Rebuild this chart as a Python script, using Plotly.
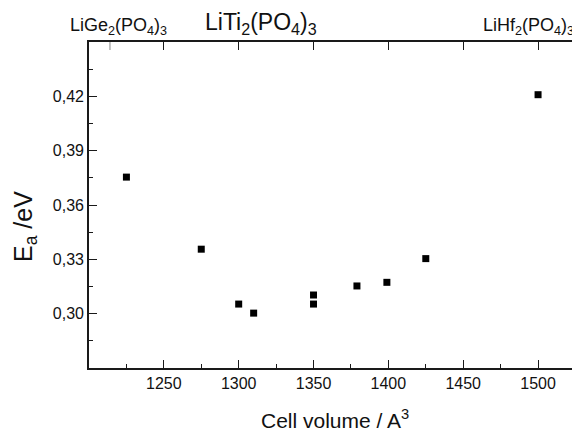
import plotly.graph_objects as go

# Data
cell_volume = [1225, 1275, 1300, 1310, 1350, 1350, 1379, 1399, 1425, 1500]
ea_ev = [0.3754, 0.3356, 0.3053, 0.3003, 0.3103, 0.3053, 0.3153, 0.3173, 0.3304, 0.4209]
x_ticks = [1250, 1300, 1350, 1400, 1450, 1500]
x_minor = [1225, 1275, 1325, 1375, 1425, 1475]
y_ticks = [0.30, 0.33, 0.36, 0.39, 0.42]
y_minor = [0.285, 0.315, 0.345, 0.375, 0.405, 0.435]
y_tick_labels = ["0,30", "0,33", "0,36", "0,39", "0,42"]
top_labels = ["LiGe<sub>2</sub>(PO<sub>4</sub>)<sub>3</sub>",
              "LiTi<sub>2</sub>(PO<sub>4</sub>)<sub>3</sub>",
              "LiHf<sub>2</sub>(PO<sub>4</sub>)<sub>3</sub>"]
top_label_x = [1220, 1315, 1462]
top_label_sizes = [18, 23, 18]
x_range = [1200, 1534.7]
y_range = [0.27, 0.45]

FONT = "Liberation Sans, Arial, sans-serif"
AX = "#1a1a1a"
FIG_W = 590
L, T, B = 89, 42, 67
PLOT_H = 435 - T - B
PLOT_W = FIG_W - L

fig = go.Figure()
fig.add_trace(go.Scatter(
    x=cell_volume, y=ea_ev, mode="markers",
    marker=dict(symbol="square", size=7, color="black"),
    showlegend=False, cliponaxis=False,
))
fig.add_trace(go.Scatter(x=[x_range[0]], y=[y_range[0]], xaxis="x2", mode="markers",
                         marker=dict(opacity=0), showlegend=False, hoverinfo="skip"))

fig.update_layout(
    width=FIG_W, height=435,
    margin=dict(l=L, r=0, t=T, b=B, autoexpand=False),
    paper_bgcolor="white", plot_bgcolor="white",
    font=dict(family=FONT, color="#111"),
    xaxis=dict(
        range=x_range, showgrid=False, zeroline=False, automargin=False,
        showline=True, linecolor=AX, linewidth=1.6,
        tickvals=x_ticks, ticks="inside", ticklen=8, tickwidth=1.3, tickcolor=AX,
        tickfont=dict(size=16, family=FONT),
        minor=dict(tickvals=x_minor, ticks="inside",
                   ticklen=4, tickwidth=1.2, tickcolor=AX),
    ),
    xaxis2=dict(
        range=x_range, overlaying="x", side="top", showgrid=False, zeroline=False,
        automargin=False,
        showline=True, linecolor=AX, linewidth=1.6,
        tickvals=x_ticks, ticks="inside", ticklen=8, tickwidth=1.3, tickcolor=AX,
        showticklabels=False,
    ),
    yaxis=dict(
        range=y_range, showgrid=False, zeroline=False, automargin=False,
        showline=True, linecolor=AX, linewidth=1.6,
        tickvals=y_ticks, ticktext=y_tick_labels,
        ticks="inside", ticklen=8, tickwidth=1.3, tickcolor=AX,
        tickfont=dict(size=16, family=FONT),
        minor=dict(tickvals=y_minor, ticks="inside",
                   ticklen=4, tickwidth=1.2, tickcolor=AX),
    ),
)

# axis titles
fig.add_annotation(x=(335 - L) / PLOT_W, y=-(419 - (T + PLOT_H)) / PLOT_H, xref="paper", yref="paper",
                   text="Cell volume / A<sup>3</sup>", showarrow=False,
                   xanchor="center", yanchor="middle",
                   font=dict(size=21, family=FONT, color="#111"))
fig.add_annotation(x=-(L - 25) / PLOT_W, y=(T + PLOT_H - 227) / PLOT_H, xref="paper", yref="paper",
                   text="E<sub>a</sub> /eV", textangle=-90, showarrow=False,
                   xanchor="center", yanchor="middle",
                   font=dict(size=25, family=FONT, color="#111"))

# light marker tick on top axis for LiGe2(PO4)3
fig.add_shape(type="line", xref="x", yref="paper", x0=1214, x1=1214,
              y0=1, y1=1 - 8 / PLOT_H, line=dict(color="#999", width=1.2))

anchors = ["center", "center", "left"]
for lab, xv, sz, an in zip(top_labels, top_label_x, top_label_sizes, anchors):
    fig.add_annotation(x=xv, y=1.0, xref="x", yref="paper", yanchor="bottom", xanchor=an,
                       yshift=2, text=lab, showarrow=False,
                       font=dict(size=sz, family=FONT, color="#111"))

fig.write_html("out.html", config={"displayModeBar": False},
               post_script="document.body.style.margin='0';document.body.style.overflow='hidden';")
